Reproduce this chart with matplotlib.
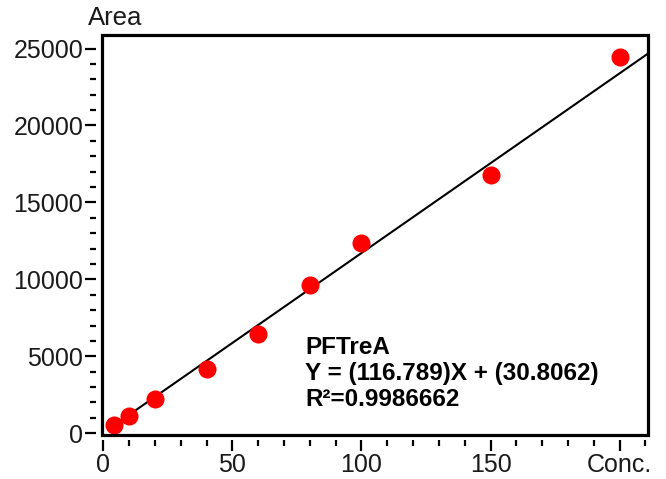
import matplotlib
matplotlib.use("Agg")
import matplotlib.pyplot as plt
import numpy as np
from matplotlib.patches import Rectangle
from matplotlib.ticker import MultipleLocator

conc = [4, 10, 20, 40, 60, 80, 100, 150, 200]
area = [540, 1140, 2220, 4170, 6480, 9620, 12390, 16810, 24460]
slope = 116.789
intercept = 30.8062
compound = "PFTreA"
r2_text = "0.9986662"
xtick_vals = [0, 50, 100, 150, 200]
xtick_labels = ["0", "50", "100", "150", "Conc."]
ytick_vals = [0, 5000, 10000, 15000, 20000, 25000]

plt.rcParams['font.family'] = ['Liberation Sans', 'DejaVu Sans']

W, H = 666, 479
fig = plt.figure(figsize=(W / 100, H / 100), dpi=100)
L, R, T, B = 102, 648, 35, 434.5
ax = fig.add_axes([L / W, (H - B) / H, (R - L) / W, (B - T) / H])

ax.set_xlim(-0.5, 211)
ax.set_ylim(-80, 25880)

xl = np.array([conc[0], 210.5])
ax.plot(xl, slope * xl + intercept, color='black', lw=1.5, zorder=2)
ax.plot(conc, area, 'o', color='#ff0000', ms=13, mec='none', zorder=3)

for s in ax.spines.values():
    s.set_visible(False)
ax.spines['left'].set_position(('outward', 4))
ax.spines['bottom'].set_position(('outward', 4))
ax.add_patch(Rectangle((0, 0), 1, 1, transform=ax.transAxes, fill=False,
                       lw=2.3, ec='black', clip_on=False, zorder=5))

ax.set_xticks(xtick_vals)
ax.set_xticklabels(xtick_labels)
ax.set_yticks(ytick_vals)
ax.xaxis.set_minor_locator(MultipleLocator(10))
ax.yaxis.set_minor_locator(MultipleLocator(1000))
ax.tick_params(which='major', length=8, width=1.6, labelsize=18, pad=1.5, colors='black')
ax.tick_params(which='minor', length=4, width=1.6)
ax.tick_params(axis='x', labelcolor='#1a1a1a')
ax.tick_params(axis='y', labelcolor='#1a1a1a')

fig.text(115 / W, 1 - 18 / H, "Area", ha='center', va='center', fontsize=18.5, color='#1a1a1a')

txt = compound + "\nY = (" + f"{slope:.3f}" + ")X + (" + f"{intercept:.4f}" + ")\nR\u00b2=" + r2_text
ax.text(0.372, 0.246, txt, transform=ax.transAxes, ha='left', va='top',
        fontsize=17.5, fontweight='bold', linespacing=1.15, color='black')

fig.savefig("out.png", dpi=100)
